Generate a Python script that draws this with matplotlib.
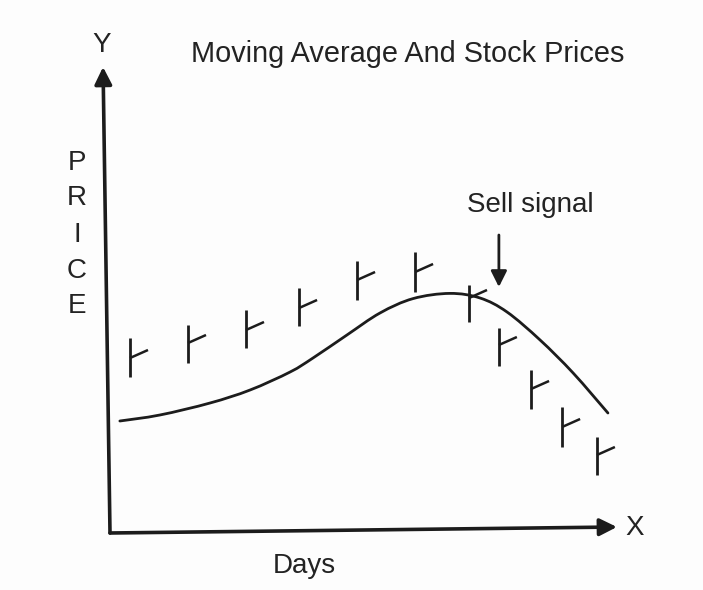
import matplotlib
matplotlib.use("Agg")
import matplotlib.pyplot as plt
from matplotlib.path import Path
from matplotlib.patches import PathPatch

# ---- data ----
bar_days   = [0.69, 2.69, 4.69, 6.52, 8.52, 10.52, 12.38, 13.41, 14.52, 15.59, 16.79]
bar_high   = [48.75, 52.0, 55.75, 61.25, 68.0, 70.25, 62.0, 51.25, 40.75, 31.5, 24.0]
bar_low    = [39.0, 42.5, 46.25, 51.75, 58.25, 60.25, 52.75, 41.75, 31.0, 21.5, 14.5]
bar_close  = [43.75, 47.5, 50.75, 56.25, 63.25, 65.25, 58.75, 47.0, 36.0, 26.5, 19.5]

ma_days  = [0.34, 1.72, 3.45, 4.83, 6.21, 7.0, 8.17, 9.31, 10.45, 11.72,
            12.76, 13.69, 14.83, 15.97, 17.17]
ma_price = [28.0, 29.5, 32.5, 35.75, 40.25, 43.75, 49.5, 55.0, 58.6, 59.9,
            58.75, 55.25, 48.25, 40.0, 30.0]

sell_day = 13.41
sell_arrow_from = 74.5
sell_arrow_to = 61.5

title = "Moving Average And Stock Prices"
xlabel = "Days"
ylabel_letters = ["P", "R", "I", "C", "E"]
ylabel_levels = [90.75, 82.0, 72.75, 63.75, 55.0]

# ---- styling ----
INK = "#1c1c1c"
TXT = "#232323"
FONT = "Liberation Sans"
TICK_DX, TICK_DY = 0.62, 2.0

fig = plt.figure(figsize=(7.03, 5.90), dpi=100)
fig.patch.set_facecolor("#fdfdfd")
ax = fig.add_axes([0, 0, 1, 1])
ax.set_facecolor("#fdfdfd")
ax.set_xlim(-110 / 29, (703 - 110) / 29)
ax.set_ylim((533 - 590) / 4, 533 / 4)
ax.axis("off")

# axes with arrows
ax.annotate("", xy=(-0.24, 116.5), xytext=(0, 0),
            arrowprops=dict(arrowstyle="-|>", lw=2.6, color=INK,
                            mutation_scale=26, shrinkA=0, shrinkB=0))
ax.annotate("", xy=(17.48, 1.5), xytext=(0, 0),
            arrowprops=dict(arrowstyle="-|>", lw=2.6, color=INK,
                            mutation_scale=26, shrinkA=0, shrinkB=0))

# moving average curve, drawn as a smooth Bezier path through the read points
pts = list(zip(ma_days, ma_price))
verts = [pts[0]]
codes = [Path.MOVETO]
n = len(pts)
for i in range(n - 1):
    p0 = pts[i - 1] if i > 0 else pts[i]
    p1 = pts[i]
    p2 = pts[i + 1]
    p3 = pts[i + 2] if i + 2 < n else pts[i + 1]
    c1 = (p1[0] + (p2[0] - p0[0]) / 6, p1[1] + (p2[1] - p0[1]) / 6)
    c2 = (p2[0] - (p3[0] - p1[0]) / 6, p2[1] - (p3[1] - p1[1]) / 6)
    verts += [c1, c2, p2]
    codes += [Path.CURVE4] * 3
ax.add_patch(PathPatch(Path(verts, codes), facecolor="none", edgecolor=INK,
                       lw=2.0, capstyle="round", joinstyle="round"))

# price bars
for d, hi, lo, cl in zip(bar_days, bar_high, bar_low, bar_close):
    ax.plot([d, d], [lo, hi], color=INK, lw=2.0, solid_capstyle="butt")
    ax.plot([d, d + TICK_DX], [cl, cl + TICK_DY], color=INK, lw=1.8,
            solid_capstyle="butt")

# sell signal arrow
ax.annotate("", xy=(sell_day, sell_arrow_to), xytext=(sell_day, sell_arrow_from),
            arrowprops=dict(arrowstyle="-|>", lw=2.0, color=INK,
                            mutation_scale=24, shrinkA=0, shrinkB=0))

# texts
fs = 20
ax.text(10.28, 117.75, title, ha="center", va="baseline", fontsize=20.8,
        family=FONT, color=TXT)
ax.text(14.48, 80.25, "Sell signal", ha="center", va="baseline", fontsize=fs,
        family=FONT, color=TXT)
ax.text(6.69, -10.0, xlabel, ha="center", va="baseline", fontsize=fs,
        family=FONT, color=TXT)
ax.text(18.1, -0.5, "X", ha="center", va="baseline", fontsize=fs,
        family=FONT, color=TXT)
ax.text(-0.28, 120.25, "Y", ha="center", va="baseline", fontsize=fs,
        family=FONT, color=TXT)
for letter, p in zip(ylabel_letters, ylabel_levels):
    ax.text(-1.14, p, letter, ha="center", va="baseline", fontsize=fs,
            family=FONT, color=TXT)

fig.savefig("out.png", dpi=100, facecolor=fig.get_facecolor())
